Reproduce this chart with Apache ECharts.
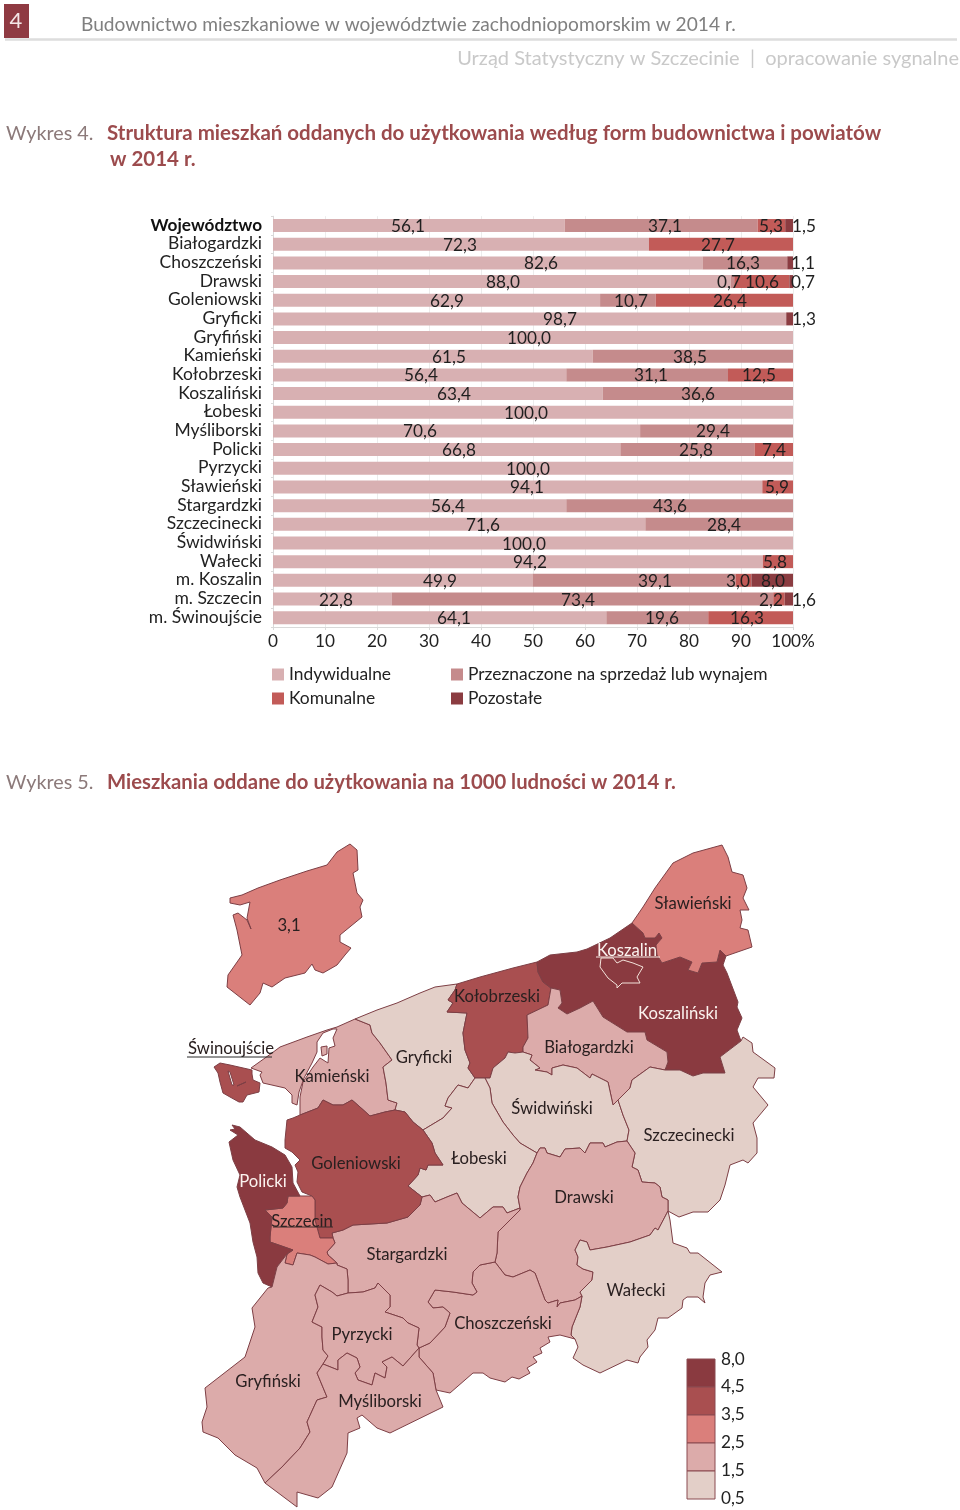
<!DOCTYPE html>
<html><head><meta charset="utf-8">
<style>html,body{margin:0;padding:0;background:#fff}#c{width:960px;height:1510px}</style>
<script src="https://cdn.jsdelivr.net/npm/echarts@6/dist/echarts.min.js"></script>
</head><body><div id="c"></div>
<script>
const categories=['Województwo','Białogardzki','Choszczeński','Drawski','Goleniowski','Gryficki','Gryfiński','Kamieński','Kołobrzeski','Koszaliński','Łobeski','Myśliborski','Policki','Pyrzycki','Sławieński','Stargardzki','Szczecinecki','Świdwiński','Wałecki','m. Koszalin','m. Szczecin','m. Świnoujście'];
const indywidualne=[56.1,72.3,82.6,88.0,62.9,98.7,100,61.5,56.4,63.4,100,70.6,66.8,100,94.1,56.4,71.6,100,94.2,49.9,22.8,64.1];
const przeznaczone=[37.1,null,16.3,0.7,10.7,null,null,38.5,31.1,36.6,null,29.4,25.8,null,null,43.6,28.4,null,null,39.1,73.4,19.6];
const komunalne=[5.3,27.7,null,10.6,26.4,null,null,null,12.5,null,null,null,7.4,null,5.9,null,null,null,5.8,3.0,2.2,16.3];
const pozostale=[1.5,null,1.1,0.7,null,1.3,null,null,null,null,null,null,null,null,null,null,null,null,null,8.0,1.6,null];
// where each value label sits in the reference (page x), the labels were placed by hand there
const labelXInd=[408,460,541,503,447,560,529,449,421,454,526,420,459,528,527,448,483,524,530,440,336,454];
const labelXPrz=[665,0,743,729,631,0,0,690,651,698,0,713,696,0,0,670,724,0,0,655,578,662];
const labelXKom=[771,718,0,762,730,0,0,0,759,0,0,0,774,0,777,0,0,0,775,738,771,747];
const labelXPoz=[804,0,803,803,0,804,0,0,0,0,0,0,0,0,0,0,0,0,0,773,804,0];
const axisTicks=[0,10,20,30,40,50,60,70,80,90,100];
const mapNames=['Białogardzki','Choszczeński','Drawski','Goleniowski','Gryficki','Gryfiński','Kamieński','Kołobrzeski','Koszaliński','Łobeski','Myśliborski','Policki','Pyrzycki','Sławieński','Stargardzki','Szczecinecki','Świdwiński','Wałecki','Koszalin','Szczecin','Świnoujście'];
const mapValues=[2.0,2.0,2.0,4.0,1.0,2.0,2.0,4.0,6.0,1.0,2.0,6.0,2.0,3.0,2.0,1.0,1.0,1.0,6.0,3.0,4.0];
const classBreaks=[0.5,1.5,2.5,3.5,4.5,8.0];
const classColors=['#e3cfc8','#dcabaa','#da7f7b','#a94f50','#8a3a40'];
const provinceValue=3.1;

const FONT='Lato, Carlito, sans-serif';
const borders={
coastKam:[[251,1068],[272,1053],[280,1047],[307,1037],[327,1030],[337,1027],[355,1019]],
kamWest:[[300,1115],[300,1097],[303,1082],[313,1067],[320,1058],[328,1063],[329,1048],[335,1046],[333,1038],[337,1029],[333,1029],[323,1033],[317,1042],[317,1052],[312,1063],[304,1078],[299,1092],[297,1105],[292,1103],[292,1095],[285,1088],[263,1083],[260,1075],[262,1072],[251,1068]],
AB:[[355,1019],[370,1025],[372,1033],[380,1043],[392,1060],[383,1067],[386,1083],[388,1100],[397,1103],[395,1110]],
BC:[[395,1110],[385,1112],[370,1116],[360,1107],[352,1100],[343,1105],[333,1105],[323,1100],[318,1108],[300,1115]],
AD:[[355,1019],[377,1010],[397,1003],[420,993],[435,987],[457,984]],
DE:[[457,984],[455,990],[448,1000],[453,1003],[447,1012],[467,1013],[463,1033],[465,1050],[470,1063],[468,1068],[475,1078]],
EF:[[475,1078],[468,1088],[458,1085],[448,1098],[445,1106],[452,1108],[443,1118],[423,1130]],
FB:[[423,1130],[413,1122],[405,1112],[395,1110]],
DG:[[457,984],[480,977],[513,968],[537,962]],
GH:[[537,962],[538,972],[543,982],[551,988]],
HI:[[551,988],[548,1005],[527,1015],[528,1038],[523,1047],[523,1052]],
IK:[[523,1052],[515,1053],[508,1052],[505,1058],[493,1068],[490,1078],[485,1078]],
KE:[[485,1078],[475,1078]],
GL:[[537,962],[550,955],[577,952],[587,949],[610,938],[632,923]],
LM:[[632,923],[643,933],[645,938],[655,938],[659,933],[662,938],[656,945],[657,955],[662,963],[680,957],[692,962],[688,970],[698,973],[702,963],[717,962],[720,950],[726,956]],
slawOuter:[[632,923],[643,907],[655,888],[673,863],[693,853],[722,845],[728,857],[732,872],[743,875],[747,888],[743,898],[749,910],[740,910],[742,920],[740,928],[748,930],[752,947],[726,956]],
MN:[[726,956],[723,965],[727,973],[738,1002],[737,1007],[742,1018],[737,1030],[741,1041]],
NO:[[741,1041],[720,1057],[725,1073],[703,1073],[693,1076],[680,1070],[665,1070]],
HO:[[551,988],[560,990],[562,1003],[558,1008],[567,1014],[580,1008],[593,1001],[603,1017],[627,1032],[645,1032],[647,1040],[667,1052],[668,1062],[665,1070]],
OP:[[665,1070],[650,1067],[632,1080],[630,1088],[618,1100],[613,1105]],
IP:[[523,1052],[532,1055],[530,1060],[540,1068],[535,1070],[547,1072],[552,1075],[552,1068],[563,1065],[577,1068],[590,1078],[592,1074],[608,1082],[613,1105]],
PQ:[[613,1105],[618,1100],[623,1115],[629,1130],[627,1141]],
QR:[[627,1141],[617,1142],[605,1147],[603,1143],[590,1143],[585,1153],[580,1148],[565,1149],[560,1157],[547,1153],[545,1148],[540,1148],[537,1153]],
RK:[[537,1153],[520,1143],[513,1135],[503,1122],[492,1103],[490,1088],[485,1078]],
FU:[[423,1130],[432,1143],[435,1153],[443,1165],[428,1165],[426,1170],[420,1168],[418,1175],[408,1186],[422,1197]],
UT:[[422,1197],[430,1195],[435,1202],[447,1197],[457,1193],[462,1203],[480,1218],[493,1207],[503,1207],[507,1213],[520,1208]],
TR:[[520,1208],[518,1197],[520,1187],[527,1173],[533,1163],[537,1153]],
NS:[[741,1041],[743,1037],[752,1043],[753,1052],[775,1068],[774,1078],[758,1078],[753,1087],[768,1105],[753,1123],[757,1138],[757,1153],[748,1163],[743,1160],[730,1165],[725,1185],[720,1200],[708,1212],[693,1212],[679,1217],[668,1211]],
SQ:[[668,1211],[668,1200],[662,1197],[660,1187],[655,1183],[642,1182],[638,1170],[632,1167],[635,1153],[627,1141]],
VT:[[495,1262],[497,1253],[498,1232],[508,1222],[520,1210],[520,1208]],
VW:[[495,1262],[505,1275],[513,1277],[530,1270],[535,1273],[545,1300],[548,1303],[558,1300],[557,1307],[560,1303],[575,1300],[582,1296]],
WS:[[582,1296],[580,1292],[592,1280],[593,1272],[583,1269],[577,1265],[578,1257],[575,1250],[580,1240],[587,1242],[590,1250],[607,1247],[630,1242],[650,1235],[655,1228],[658,1230],[668,1211]],
SX:[[668,1211],[670,1220],[673,1243],[687,1248],[690,1253],[698,1253],[722,1272],[710,1275],[705,1283],[703,1297],[705,1303],[698,1297],[687,1297],[683,1300],[682,1308],[668,1318],[658,1318],[655,1330],[647,1340],[648,1347],[640,1357],[638,1363],[627,1360],[600,1373],[583,1365],[573,1358],[578,1347],[575,1339]],
WX:[[582,1296],[580,1307],[572,1327],[571,1335],[575,1339]],
XY:[[575,1339],[560,1335],[548,1337],[550,1342],[540,1348],[542,1353],[533,1357],[537,1362],[527,1368],[530,1373],[519,1379],[512,1377],[505,1382],[490,1378],[483,1373],[473,1373],[450,1393],[436,1390]],
YZ:[[436,1390],[433,1373],[419,1357],[419,1348]],
ZV:[[419,1348],[430,1343],[445,1327],[450,1313],[443,1307],[433,1308],[428,1302],[435,1290],[453,1292],[473,1295],[477,1292],[472,1283],[473,1272],[480,1265],[495,1262]],
AAZ:[[348,1293],[363,1292],[375,1288],[378,1283],[390,1295],[390,1307],[385,1312],[403,1318],[408,1323],[419,1328],[417,1345],[419,1348]],
AAAF:[[348,1293],[348,1280],[347,1269],[337,1265],[337,1263]],
AFAG:[[337,1263],[328,1255],[327,1252],[335,1243],[333,1238]],
AGU:[[333,1238],[332,1233],[343,1230],[353,1225],[387,1223],[408,1217],[420,1205],[422,1197]],
AGAH:[[333,1238],[320,1238],[315,1220],[315,1200],[312,1196]],
AHC:[[312,1196],[302,1192],[297,1182],[298,1172],[295,1165],[300,1160],[292,1152],[285,1148],[285,1140],[287,1120],[293,1118],[300,1115]],
AIAE:[[300,1196],[288,1196],[287,1203],[283,1208],[265,1210],[272,1217],[270,1237],[270,1242],[293,1250],[287,1254]],
AIAH:[[300,1196],[312,1196]],
AEAF:[[287,1254],[285,1263],[293,1265],[297,1253],[310,1255],[315,1257],[328,1264],[337,1263]],
AEAD:[[287,1254],[277,1267],[272,1287]],
ADAI:[[272,1287],[263,1283],[258,1273],[257,1257],[253,1242],[250,1223],[240,1197],[237,1187],[240,1175],[233,1160],[229,1142],[238,1135],[230,1130],[235,1129],[232,1125],[240,1127],[255,1140],[272,1147],[285,1155],[292,1167],[293,1183],[300,1196]],
AAAB:[[348,1293],[337,1296],[332,1292],[320,1285],[315,1295],[318,1307],[312,1322],[322,1327],[322,1337],[323,1350],[328,1356],[323,1364]],
ABAC:[[323,1364],[317,1373],[327,1397],[317,1400],[307,1422],[310,1432],[300,1448],[282,1467],[265,1483]],
ACAD:[[265,1483],[257,1468],[235,1455],[218,1438],[203,1432],[202,1422],[207,1407],[205,1388],[245,1357],[255,1327],[252,1308],[268,1288],[272,1287]],
ABZ:[[323,1364],[338,1370],[338,1360],[347,1353],[357,1358],[360,1367],[355,1373],[358,1380],[372,1385],[375,1373],[385,1378],[387,1367],[382,1362],[392,1357],[403,1366],[419,1348]],
YAC:[[436,1390],[443,1407],[390,1433],[377,1428],[362,1415],[357,1418],[360,1428],[348,1433],[347,1453],[332,1487],[318,1498],[297,1492],[297,1507],[265,1483]]
};
const rings={
'Kamieński':['coastKam','AB','BC','kamWest'],
'Gryficki':['AD','DE','EF','FB','-AB'],
'Kołobrzeski':['DG','GH','HI','IK','KE','-DE'],
'Koszaliński':['GL','LM','MN','NO','-HO','-GH'],
'Sławieński':['slawOuter','-LM'],
'Białogardzki':['HO','OP','-IP','-HI'],
'Świdwiński':['IP','PQ','QR','RK','-IK'],
'Łobeski':['KE','EF','FU','UT','TR','RK'],
'Szczecinecki':['NS','SQ','-PQ','-OP','-NO'],
'Drawski':['-QR','-SQ','-WS','-VW','VT','TR'],
'Wałecki':['WS','SX','-WX'],
'Choszczeński':['VW','WX','XY','YZ','ZV'],
'Stargardzki':['UT','-VT','-ZV','-AAZ','AAAF','AFAG','AGU'],
'Goleniowski':['-BC','-FB','FU','-AGU','AGAH','AHC'],
'Szczecin':['-AIAE','AIAH','-AGAH','-AFAG','-AEAF'],
'Policki':['AIAE','AEAD','ADAI'],
'Gryfiński':['-AEAD','AEAF','-AAAF','AAAB','ABAC','ACAD'],
'Pyrzycki':['AAZ','-ABZ','-AAAB'],
'Myśliborski':['ABZ','-YZ','YAC','-ABAC']
};
const extraPolys={
'Świnoujście':[[[[214,1067],[220,1063],[230,1065],[252,1070],[252,1074],[253,1080],[260,1083],[259,1092],[247,1095],[243,1102],[239,1102],[230,1097],[223,1093],[220,1082],[218,1073]],[[228,1071],[230,1072],[234,1085],[232,1085]],[[237,1086],[245,1081],[246,1082],[238,1087]]]],
'Koszalin':[[[[601,958],[600,967],[608,978],[617,985],[617,988],[622,983],[640,983],[637,977],[643,967],[633,963],[623,960],[617,963],[613,958]]]]
};
const kamIsland=[[321,1047],[327,1046],[327,1054],[322,1056]];
const labelAt={'Sławieński':[693,904],'Koszalin':[627,951],'Kołobrzeski':[497,997],'Koszaliński':[678,1014],'Białogardzki':[589,1048],'Świnoujście':[231,1049],'Kamieński':[332,1077],'Gryficki':[424,1058],'Świdwiński':[552,1109],'Szczecinecki':[689,1136],'Łobeski':[479,1159],'Goleniowski':[356,1164],'Policki':[263,1182],'Drawski':[584,1198],'Szczecin':[302,1222],'Stargardzki':[407,1255],'Wałecki':[636,1291],'Choszczeński':[503,1324],'Pyrzycki':[362,1335],'Gryfiński':[268,1382],'Myśliborski':[380,1402]};
const provinceOutline=[[230,898],[242,895],[258,888],[280,880],[307,871],[327,865],[337,852],[350,844],[357,850],[358,870],[353,873],[357,893],[363,900],[360,907],[362,917],[340,935],[340,942],[351,948],[345,955],[337,965],[323,973],[315,970],[312,964],[305,973],[285,978],[272,987],[263,983],[260,993],[250,1005],[227,987],[228,975],[242,955],[237,930],[233,915],[238,913],[247,920],[251,929],[247,918],[250,902],[240,905],[230,903]];

function ring(tokens){
  const out=[];
  tokens.forEach(t=>{
    const rev=t[0]==='-';
    const a=borders[rev?t.slice(1):t].slice();
    if(rev)a.reverse();
    a.forEach(p=>{const l=out[out.length-1];if(!l||l[0]!==p[0]||l[1]!==p[1])out.push(p);});
  });
  const f=out[0],l=out[out.length-1];
  if(f[0]!==l[0]||f[1]!==l[1])out.push(f);
  return out;
}
function area(r){let s=0;for(let i=0;i<r.length;i++){const a=r[i],b=r[(i+1)%r.length];s+=a[0]*b[1]-b[0]*a[1];}return s;}
function closeR(r){const o=r.slice();const f=o[0],l=o[o.length-1];if(f[0]!==l[0]||f[1]!==l[1])o.push(f);return o;}
function orient(poly){return poly.map((r,i)=>{let c=closeR(r);const a=area(c);if((i===0&&a<0)||(i>0&&a>0))c=c.slice().reverse();return c;});}
const features=[];
Object.keys(rings).forEach(n=>{
  const polys=[orient([ring(rings[n])])];
  if(n==='Kamieński')polys.push(orient([kamIsland]));
  features.push({type:'Feature',properties:{name:n,cp:labelAt[n]},geometry:{type:'MultiPolygon',coordinates:polys}});
});
Object.keys(extraPolys).forEach(n=>{
  features.push({type:'Feature',properties:{name:n,cp:labelAt[n]},geometry:{type:'MultiPolygon',coordinates:extraPolys[n].map(orient)}});
});
echarts.registerMap('powiaty',{type:'FeatureCollection',features});
echarts.registerMap('woj',{type:'FeatureCollection',features:[{type:'Feature',properties:{name:'Województwo',cp:[289,926]},geometry:{type:'Polygon',coordinates:[orient([provinceOutline])[0]]}}]});
function bbox(fs){let a=1e9,b=1e9,c=-1e9,d=-1e9;const v=x=>{if(typeof x[0]==='number'){a=Math.min(a,x[0]);b=Math.min(b,x[1]);c=Math.max(c,x[0]);d=Math.max(d,x[1]);}else x.forEach(v);};fs.forEach(f=>v(f.geometry.coordinates));return {left:a,top:b,width:c-a,height:d-b};}
const identity={project:p=>[p[0],p[1]],unproject:p=>[p[0],p[1]]};

const GRID={left:273,right:793,top:216.2,bottom:627};
function bar(name,values,labelX,color,idx){
  return {name,type:'bar',stack:'s',barWidth:13,itemStyle:{color},z:2,
    data:values.map((v,i)=>{
      if(v==null)return {value:null};
      const before=[indywidualne,przeznaczone,komunalne,pozostale].slice(0,idx).reduce((s,a)=>s+(a[i]||0),0);
      const centre=GRID.left+(before+v/2)*(GRID.right-GRID.left)/100;
      return {value:v,label:{offset:[labelX[i]-centre,1]}};
    }),
    label:{show:true,position:'inside',color:'#1f1f1f',fontFamily:FONT,fontSize:17.2,formatter:p=>p.value==null?'':p.value.toFixed(1).replace('.',',')},
    emphasis:{disabled:true},silent:true};
}
const txt=(x,y,t,o)=>({type:'text',x,y,z:20,silent:true,style:Object.assign({text:t,fontFamily:FONT,fontSize:20,fill:'#7f7f7f',align:'left',verticalAlign:'middle'},o||{})});
const line=(x1,y1,x2,y2,c,w)=>({type:'line',z:20,silent:true,shape:{x1,y1,x2,y2},style:{stroke:c,lineWidth:w||1}});
const graphics=[
 {type:'rect',silent:true,shape:{x:4,y:4,width:25,height:34},style:{fill:'#8f3a42'}},
 txt(16,21,'4',{fill:'#f4e6e6',align:'center',fontSize:22}),
 line(5,39.5,957,39.5,'#dddddd',2.5),
 txt(81,25,'Budownictwo mieszkaniowe w województwie zachodniopomorskim w 2014 r.',{fontSize:19.15,fill:'#808080'}),
 txt(959,59,'Urząd Statystyczny w Szczecinie  |  opracowanie sygnalne',{align:'right',fontSize:20,fill:'#c9c9c9'}),
 txt(6,133.5,'Wykres 4.',{fontSize:19.8,fill:'#8c7a7a'}),
 txt(107,133.5,'Struktura mieszkań oddanych do użytkowania według form budownictwa i powiatów',{fontSize:20.5,fontWeight:'bold',fill:'#9c4b4d'}),
 txt(110,159.5,'w 2014 r.',{fontSize:20.5,fontWeight:'bold',fill:'#9c4b4d'}),
 txt(6,782.5,'Wykres 5.',{fontSize:19.8,fill:'#8c7a7a'}),
 txt(107,782.5,'Mieszkania oddane do użytkowania na 1000 ludności w 2014 r.',{fontSize:20.3,fontWeight:'bold',fill:'#9c4b4d'}),
 line(187,1057,272,1057,'#2a2a2a',1),
 line(596,957,660,957,'#f6e9e3',1),
 line(273,1227,333,1227,'#3a2a2a',1)
];
classColors.slice().reverse().forEach((c,i)=>{
  graphics.push({type:'rect',silent:true,z:20,shape:{x:687,y:1359+i*28,width:28,height:28},style:{fill:c,stroke:'#8a4a50',lineWidth:1}});
});
classBreaks.slice().reverse().forEach((b,i)=>{
  graphics.push(txt(721,1359+i*27.8,b.toFixed(1).replace('.',','),{fontSize:17.2,fill:'#222'}));
});
const whiteLabel={'Koszaliński':1,'Policki':1,'Koszalin':1};
const chart=echarts.init(document.getElementById('c'),null,{renderer:'canvas',width:960,height:1510});
chart.setOption({
 animation:false,backgroundColor:'#fff',
 textStyle:{fontFamily:FONT},
 grid:{left:GRID.left,top:GRID.top,width:GRID.right-GRID.left,height:GRID.bottom-GRID.top,containLabel:false},
 xAxis:{type:'value',min:0,max:100,interval:10,
   axisLine:{show:true,lineStyle:{color:'#d9d9d9'}},axisTick:{show:true,length:3,lineStyle:{color:'#d9d9d9'}},
   splitLine:{show:true,lineStyle:{color:'#ececec',width:1}},
   axisLabel:{margin:6,fontFamily:FONT,fontSize:17.2,color:'#222',showMinLabel:true,showMaxLabel:true,formatter:v=>v===axisTicks[axisTicks.length-1]?v+'%':String(v)}},
 yAxis:{type:'category',inverse:true,data:categories,
   axisLine:{show:true,lineStyle:{color:'#d9d9d9'}},axisTick:{show:true,length:2,lineStyle:{color:'#d9d9d9'}},
   axisLabel:{margin:11,padding:[0,0,1,0],fontFamily:FONT,fontSize:17.5,color:'#222',interval:0,
     formatter:(v,i)=>i===0?'{b|'+v+'}':v,rich:{b:{fontFamily:FONT,fontSize:17.2,fontWeight:'bold',color:'#111'}}}},
 legend:[
  {left:267,top:661,data:['Indywidualne']},{left:446,top:661,data:['Przeznaczone na sprzedaż lub wynajem']},
  {left:267,top:685,data:['Komunalne']},{left:446,top:685,data:['Pozostałe']}
 ].map(l=>Object.assign(l,{icon:'rect',itemWidth:12,itemHeight:12,selectedMode:false,textStyle:{fontFamily:FONT,fontSize:17.4,color:'#222'}})),
 visualMap:{show:false,type:'piecewise',seriesIndex:[4,5],pieces:classColors.map((c,i)=>({gte:classBreaks[i],lt:i===classColors.length-1?classBreaks[i+1]+1:classBreaks[i+1],color:c}))},
 series:[
  bar('Indywidualne',indywidualne,labelXInd,'#d8b0b2',0),
  bar('Przeznaczone na sprzedaż lub wynajem',przeznaczone,labelXPrz,'#c58b8c',1),
  bar('Komunalne',komunalne,labelXKom,'#c25b58',2),
  bar('Pozostałe',pozostale,labelXPoz,'#8b3c41',3),
  Object.assign({type:'map',map:'powiaty',projection:identity,aspectScale:1,roam:false,silent:true,selectedMode:false,showLegendSymbol:false,emphasis:{disabled:true},
    itemStyle:{borderColor:'#7d3f45',borderWidth:1},
    label:{show:true,fontFamily:FONT,fontSize:16.7,color:'#2a2020'},
    data:mapNames.map((n,i)=>{
      const d={name:n,value:mapValues[i]};
      if(whiteLabel[n])d.label={color:'#fbf3ef'};
      if(n==='Koszalin')d.itemStyle={borderColor:'#f3e2da',borderWidth:1};
      return d;})
  },bbox(features)),
  Object.assign({type:'map',map:'woj',projection:identity,aspectScale:1,roam:false,silent:true,selectedMode:false,showLegendSymbol:false,emphasis:{disabled:true},
    itemStyle:{borderColor:'#7d3f45',borderWidth:1},
    label:{show:true,fontFamily:FONT,fontSize:16.7,color:'#2a2020',formatter:p=>p.value.toFixed(1).replace('.',',')},
    data:[{name:'Województwo',value:provinceValue}]
  },bbox([{geometry:{coordinates:[provinceOutline]}}]))
 ],
 graphic:graphics
});
</script></body></html>
